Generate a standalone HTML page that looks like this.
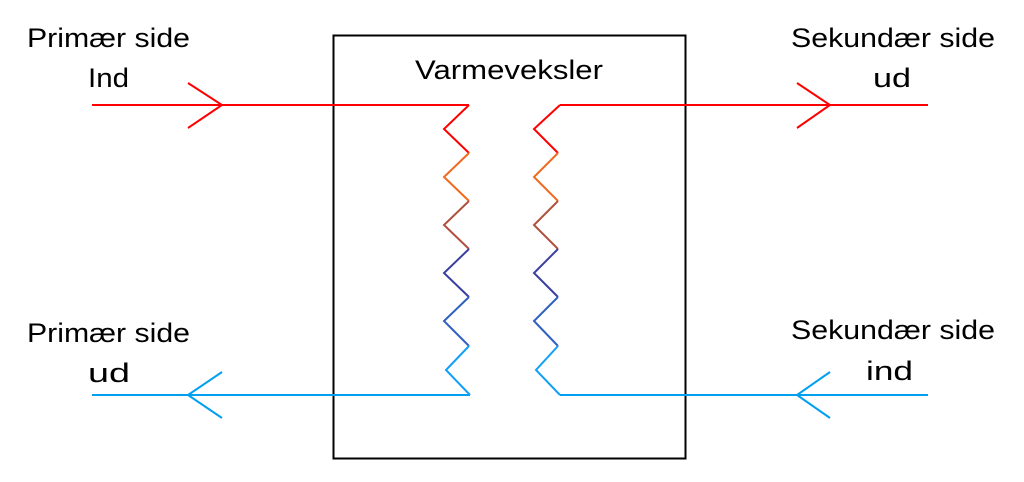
<!DOCTYPE html>
<html><head><meta charset="utf-8"><style>html,body{margin:0;padding:0;background:#fff;width:1024px;height:482px;overflow:hidden}</style></head>
<body>
<svg width="1024" height="482" viewBox="0 0 1024 482" xmlns="http://www.w3.org/2000/svg" font-family="Liberation Sans, sans-serif" font-size="27" fill="#000">
<rect x="333.5" y="35.5" width="352" height="423" fill="none" stroke="#000" stroke-width="2"/>
<g fill="none" stroke-width="2">
<path d="M92 105 H469" stroke="#f00"/>
<path d="M560 105 H928" stroke="#f00"/>
<path d="M188 83 L222 105 L188 128" stroke="#f00"/>
<path d="M797 83 L830 105 L797 128" stroke="#f00"/>
<path d="M92 395 H470" stroke="#00a0f0"/>
<path d="M560 395 H928" stroke="#00a0f0"/>
<path d="M222 372 L188 395 L222 418" stroke="#00a0f0"/>
<path d="M830 372 L797 395 L830 418" stroke="#00a0f0"/>
<path d="M469 105 L444 129 L469 153" stroke="#f00"/>
<path d="M469 153 L444 177 L469 201" stroke="#f06a20"/>
<path d="M469 201 L444 225 L469 249" stroke="#b05040"/>
<path d="M469 249 L444 273 L469 297" stroke="#3a3fa0"/>
<path d="M469 297 L444 321 L469 346" stroke="#3060c0"/>
<path d="M469 346 L446 370 L470 395" stroke="#10a0f8"/>
<path d="M560 105 L534 129 L558 153" stroke="#f00"/>
<path d="M558 153 L534 177 L558 201" stroke="#f06a20"/>
<path d="M558 201 L534 225 L558 249" stroke="#b05040"/>
<path d="M558 249 L534 273 L558 297" stroke="#3a3fa0"/>
<path d="M558 297 L534 321 L558 346" stroke="#3060c0"/>
<path d="M558 346 L536 370 L560 395" stroke="#10a0f8"/>
</g>
<text x="27" y="47" textLength="163" lengthAdjust="spacingAndGlyphs">Primær side</text>
<text x="88" y="87" textLength="41" lengthAdjust="spacingAndGlyphs">Ind</text>
<text x="27" y="342" textLength="163" lengthAdjust="spacingAndGlyphs">Primær side</text>
<text x="88" y="382" textLength="42" lengthAdjust="spacingAndGlyphs">ud</text>
<text x="415" y="79" textLength="188" lengthAdjust="spacingAndGlyphs">Varmeveksler</text>
<text x="791" y="47" textLength="204" lengthAdjust="spacingAndGlyphs">Sekundær side</text>
<text x="873" y="87" textLength="38" lengthAdjust="spacingAndGlyphs">ud</text>
<text x="791" y="339" textLength="204" lengthAdjust="spacingAndGlyphs">Sekundær side</text>
<text x="866" y="380" textLength="47" lengthAdjust="spacingAndGlyphs">ind</text>
</svg>
</body></html>
